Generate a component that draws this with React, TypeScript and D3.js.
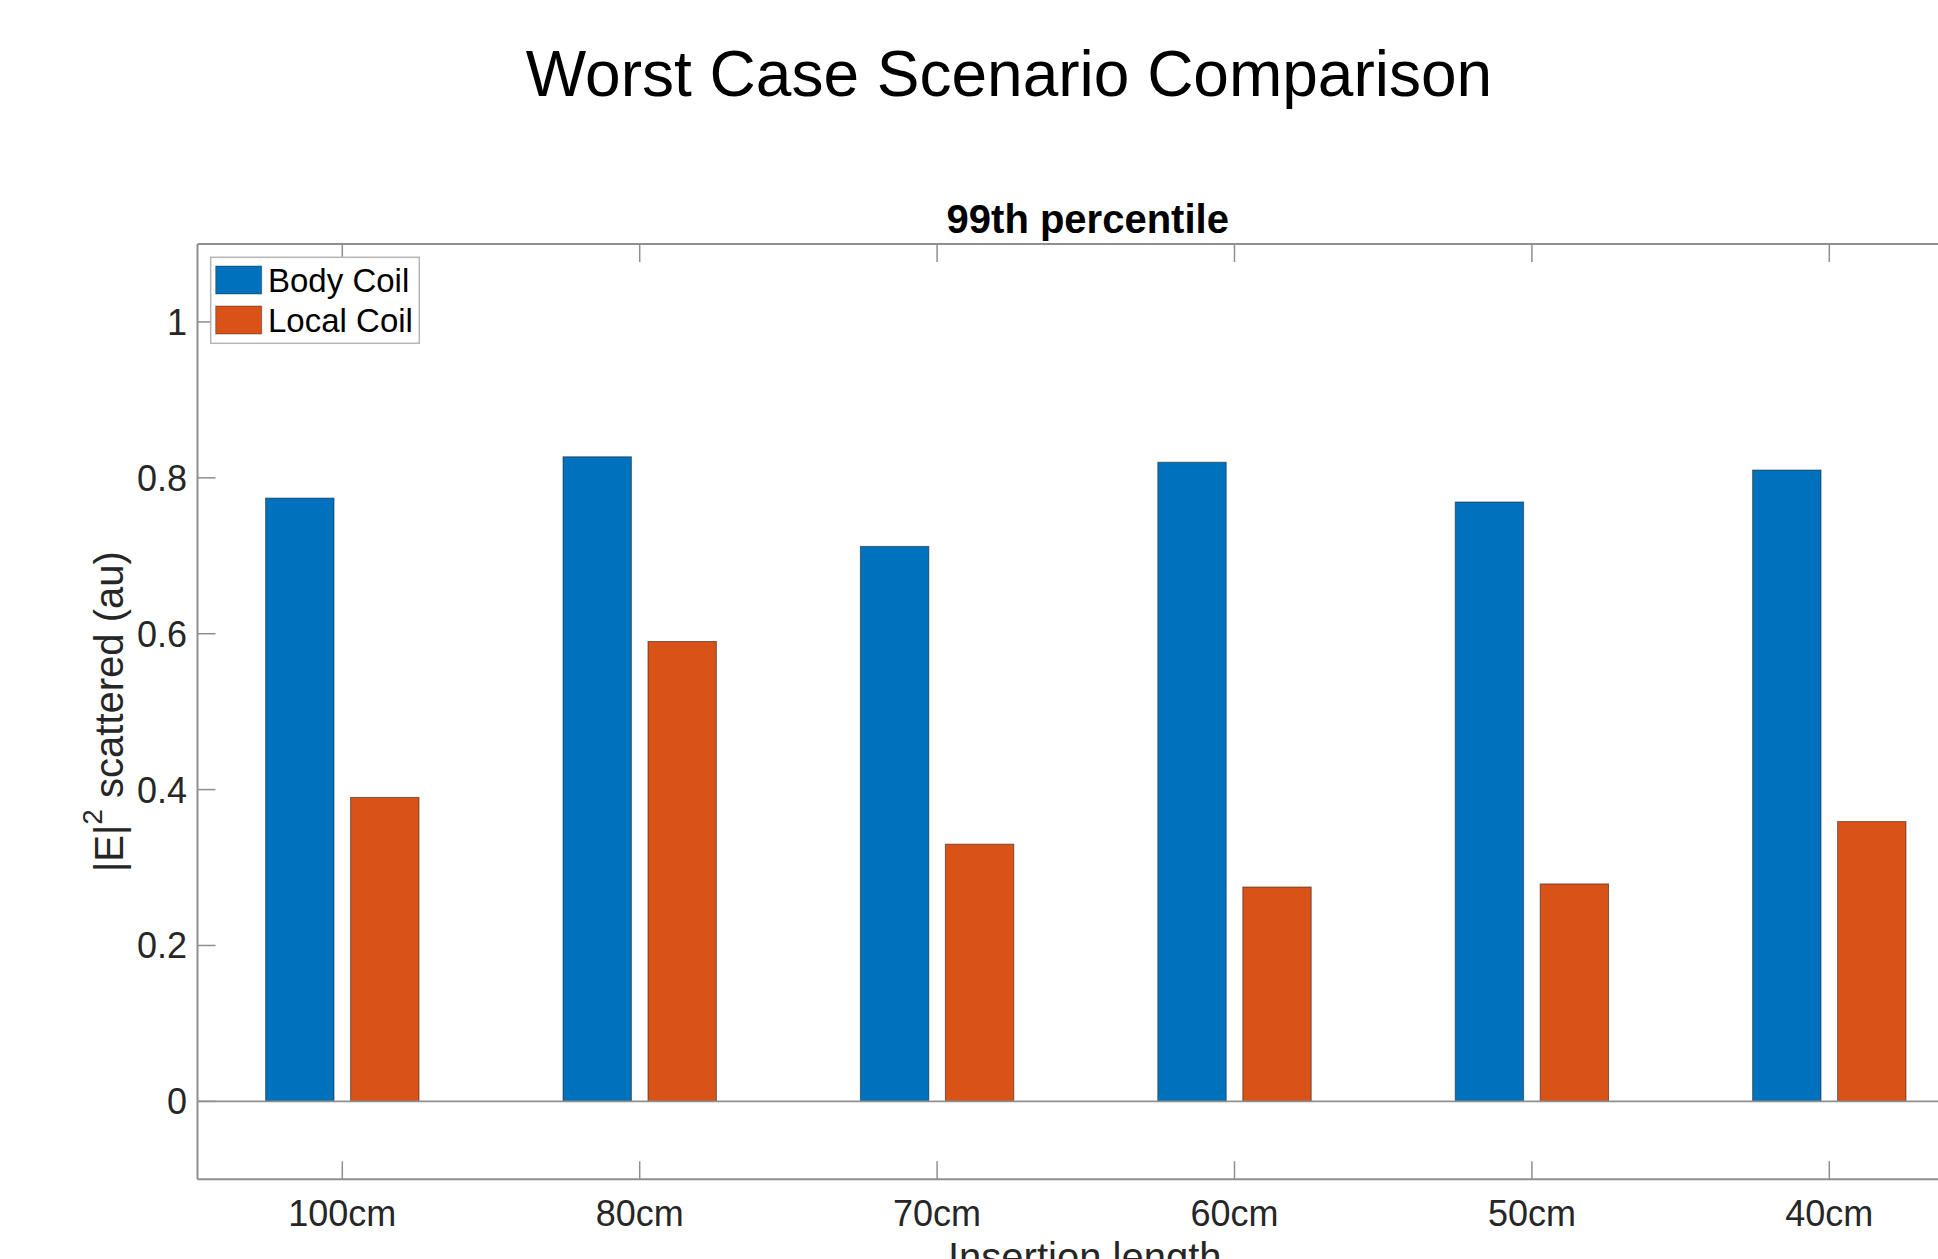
import React from "react";
import * as d3 from "d3";

const categories = ["100cm", "80cm", "70cm", "60cm", "50cm", "40cm"];
const seriesNames = ["Body Coil", "Local Coil"];
const bodyCoil = [0.774, 0.827, 0.712, 0.82, 0.769, 0.81];
const localCoil = [0.39, 0.59, 0.33, 0.275, 0.279, 0.359];
const yTicks = [0, 0.2, 0.4, 0.6, 0.8, 1];
const seriesColors = ["#0072BD", "#D95319"];

const W = 1938;
const H = 1259;
const FONT = "'Liberation Sans', Arial, Helvetica, sans-serif";

export default function App() {
  const plotLeft = 197.5;
  const plotTop = 244;
  const plotBottom = 1179.3;

  const x = d3.scalePoint<string>().domain(categories).range([342.3, 1829.3]);
  const step = x.step();
  const plotRight = (x(categories[categories.length - 1]) as number) + step * 0.5;
  const y = d3.scaleLinear().domain([-0.1, 1.1]).range([plotBottom, plotTop]);
  const offset = d3.scalePoint<string>().domain(seriesNames).range([-step / 7, step / 7]);
  const barW = step * 0.23;
  const seriesValues = [bodyCoil, localCoil];

  const tickLen = 18;
  const axisColor = "#8f8f8f";
  const textColor = "#262626";

  return (
    <svg
      width={W}
      height={H}
      style={{ position: "absolute", left: 0, top: 0, background: "#fff" }}
      fontFamily={FONT}
    >
      <rect x={0} y={0} width={W} height={H} fill="#fff" />
      <text x={1009} y={96} textAnchor="middle" fontSize={64} fill="#000">
        Worst Case Scenario Comparison
      </text>
      <text x={(plotLeft + plotRight) / 2} y={233} textAnchor="middle" fontSize={40} fontWeight="bold" fill="#000">
        99th percentile
      </text>

      {/* bars */}
      {seriesValues.map((vals, s) =>
        vals.map((v, i) => {
          const cx = (x(categories[i]) as number) + (offset(seriesNames[s]) as number);
          return (
            <rect
              key={`${s}-${i}`}
              x={cx - barW / 2}
              y={y(v)}
              width={barW}
              height={y(0) - y(v)}
              fill={seriesColors[s]}
              stroke="#1a1a1a"
              strokeOpacity={0.55}
              strokeWidth={1}
            />
          );
        })
      )}

      {/* zero baseline */}
      <line x1={plotLeft} x2={plotRight} y1={y(0)} y2={y(0)} stroke={axisColor} strokeWidth={1.6} />

      {/* axes box */}
      <line x1={plotLeft} x2={plotRight} y1={plotTop} y2={plotTop} stroke={axisColor} strokeWidth={2} />
      <line x1={plotLeft} x2={plotRight} y1={plotBottom} y2={plotBottom} stroke={axisColor} strokeWidth={2} />
      <line x1={plotLeft} x2={plotLeft} y1={plotTop} y2={plotBottom} stroke={axisColor} strokeWidth={2} />

      {/* x ticks */}
      {categories.map((c) => {
        const px = x(c) as number;
        return (
          <g key={c}>
            <line x1={px} x2={px} y1={plotBottom} y2={plotBottom - tickLen} stroke={axisColor} strokeWidth={1.5} />
            <line x1={px} x2={px} y1={plotTop} y2={plotTop + tickLen} stroke={axisColor} strokeWidth={1.5} />
            <text x={px} y={1226} textAnchor="middle" fontSize={36} fill={textColor}>
              {c}
            </text>
          </g>
        );
      })}

      {/* y ticks */}
      {yTicks.map((t) => (
        <g key={t}>
          <line x1={plotLeft} x2={plotLeft + tickLen} y1={y(t)} y2={y(t)} stroke={axisColor} strokeWidth={1.5} />
          <text x={187} y={y(t) + 13} textAnchor="end" fontSize={36} fill={textColor}>
            {d3.format("~g")(t)}
          </text>
        </g>
      ))}

      {/* axis labels */}
      <text
        transform={`translate(123,${(plotTop + plotBottom) / 2}) rotate(-90)`}
        textAnchor="middle"
        fontSize={40}
        fill={textColor}
      >
        |E|
        <tspan dy={-21} fontSize={28}>2</tspan>
        <tspan dy={21}> scattered (au)</tspan>
      </text>
      <text x={(plotLeft + plotRight) / 2 - 3} y={1271} textAnchor="middle" fontSize={40} fill={textColor}>
        Insertion length
      </text>

      {/* legend */}
      <g>
        <rect x={210.7} y={257.3} width={208.6} height={86} fill="#fff" stroke="#b5b5b5" strokeWidth={1.5} />
        {seriesNames.map((n, s) => (
          <g key={n}>
            <rect
              x={215.7}
              y={266 + s * 40}
              width={46}
              height={28}
              fill={seriesColors[s]}
              stroke="#1a1a1a"
              strokeOpacity={0.4}
              strokeWidth={1}
            />
            <text x={268} y={291.7 + s * 40} fontSize={33} fill="#000">
              {n}
            </text>
          </g>
        ))}
      </g>
    </svg>
  );
}
